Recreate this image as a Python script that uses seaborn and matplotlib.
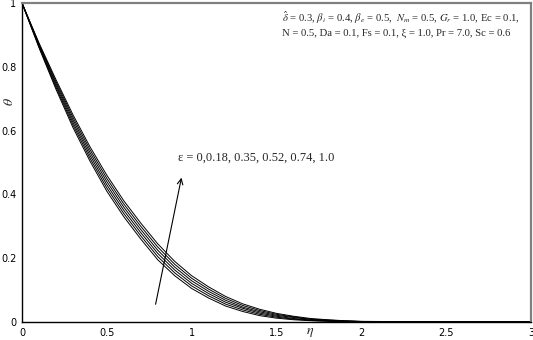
import matplotlib
matplotlib.use("Agg")
import matplotlib.pyplot as plt
import seaborn as sns
import pandas as pd

# Temperature profiles theta(eta) for several values of epsilon
eta = [0.0, 0.1, 0.2, 0.3, 0.4, 0.5, 0.6, 0.7, 0.8, 0.9, 1.0,
       1.1, 1.2, 1.3, 1.4, 1.5, 1.6, 1.7, 1.8, 1.9, 2.0, 2.5, 3.0]
eps_labels = ["0", "0.18", "0.35", "0.52", "0.74", "1.0"]
theta_e0 = [1.0, 0.860, 0.730, 0.610, 0.505, 0.410, 0.330, 0.260, 0.195, 0.145, 0.105,
            0.075, 0.050, 0.033, 0.020, 0.012, 0.007, 0.004, 0.002, 0.001, 0.0, 0.0, 0.0]
theta_e1 = [1.0, 0.863, 0.736, 0.618, 0.514, 0.420, 0.340, 0.270, 0.205, 0.154, 0.113,
            0.082, 0.056, 0.038, 0.024, 0.015, 0.009, 0.005, 0.003, 0.0016, 0.0004, 0.0, 0.0]
theta_e2 = [1.0, 0.866, 0.742, 0.626, 0.523, 0.430, 0.350, 0.280, 0.215, 0.163, 0.121,
            0.089, 0.062, 0.043, 0.028, 0.018, 0.011, 0.006, 0.004, 0.002, 0.0008, 0.0, 0.0]
theta_e3 = [1.0, 0.869, 0.748, 0.634, 0.532, 0.440, 0.360, 0.290, 0.225, 0.172, 0.129,
            0.096, 0.068, 0.047, 0.032, 0.021, 0.014, 0.008, 0.005, 0.003, 0.0012, 0.0, 0.0]
theta_e4 = [1.0, 0.872, 0.754, 0.642, 0.541, 0.450, 0.370, 0.300, 0.235, 0.181, 0.137,
            0.103, 0.074, 0.052, 0.036, 0.024, 0.016, 0.009, 0.006, 0.0034, 0.0016, 0.0, 0.0]
theta_e5 = [1.0, 0.875, 0.760, 0.650, 0.550, 0.460, 0.380, 0.310, 0.245, 0.190, 0.145,
            0.110, 0.080, 0.057, 0.040, 0.027, 0.018, 0.011, 0.007, 0.004, 0.002, 0.0, 0.0]
series = [theta_e0, theta_e1, theta_e2, theta_e3, theta_e4, theta_e5]

x_ticks = [0, 0.5, 1, 1.5, 2, 2.5, 3]
x_tick_labels = ["0", "0.5", "1", "1.5", "2", "2.5", "3"]
y_ticks = [0, 0.2, 0.4, 0.6, 0.8, 1.0]
y_tick_labels = ["0", "0.2", "0.4", "0.6", "0.8", "1"]

rows = []
for lab, vals in zip(eps_labels, series):
    for e, t in zip(eta, vals):
        rows.append({"eta": e, "theta": t, "eps": lab})
df = pd.DataFrame(rows)

sns.set_style("white")
plt.rcParams["mathtext.fontset"] = "stix"

fig = plt.figure(figsize=(5.33, 3.4), dpi=100)
ax = fig.add_axes([0.0413, 0.053, 0.955, 0.938])

sns.lineplot(data=df, x="eta", y="theta", hue="eps", hue_order=eps_labels,
             palette=["black"] * len(eps_labels), linewidth=0.7, legend=False, ax=ax)

ax.set_xlim(0, 3)
ax.set_ylim(0, 1)
ax.set_xticks(x_ticks)
ax.set_xticklabels(x_tick_labels)
ax.set_yticks(y_ticks)
ax.set_yticklabels(y_tick_labels)
ax.tick_params(axis="both", length=0, labelsize=7, pad=4, colors="black")
for t in ax.get_xticklabels() + ax.get_yticklabels():
    t.set_family("DejaVu Sans")

ax.set_xlabel("")
ax.set_ylabel("")
ax.text(1.70, -0.008, r"$\eta$", fontsize=10, ha="center", va="top",
        transform=ax.transData, clip_on=False)
fig.text(0.017, 0.70, r"$\theta$", fontsize=10, rotation=90, ha="center", va="center",
         fontweight="bold")

for side in ["left", "bottom"]:
    ax.spines[side].set_color("black")
    ax.spines[side].set_linewidth(1.0)
for side in ["top", "right"]:
    ax.spines[side].set_color("#808080")
    ax.spines[side].set_linewidth(1.6)

# arrow indicating increasing epsilon
ax.annotate("", xy=(0.943, 0.461), xytext=(0.784, 0.047),
            arrowprops=dict(arrowstyle="->", color="black", lw=0.8, mutation_scale=10))
ax.text(0.92, 0.515, "\u03b5 = 0,0.18, 0.35, 0.52, 0.74, 1.0", fontsize=8.9,
        family="Liberation Serif", ha="left", va="center")

line1 = (r"$\hat{\delta}$ = 0.3, $\beta_i$ = 0.4, $\beta_e$ = 0.5,  $N_m$ = 0.5, "
         r"$G_r$ = 1.0, Ec = 0.1,")
line2 = "N = 0.5, Da = 0.1, Fs = 0.1, \u03be = 1.0, Pr = 7.0, Sc = 0.6"
ax.text(1.535, 0.955, line1, fontsize=7.7, family="Liberation Serif", ha="left", va="center")
ax.text(1.535, 0.905, line2, fontsize=7.7, family="Liberation Serif", ha="left", va="center")

fig.savefig("out.png", dpi=100)
